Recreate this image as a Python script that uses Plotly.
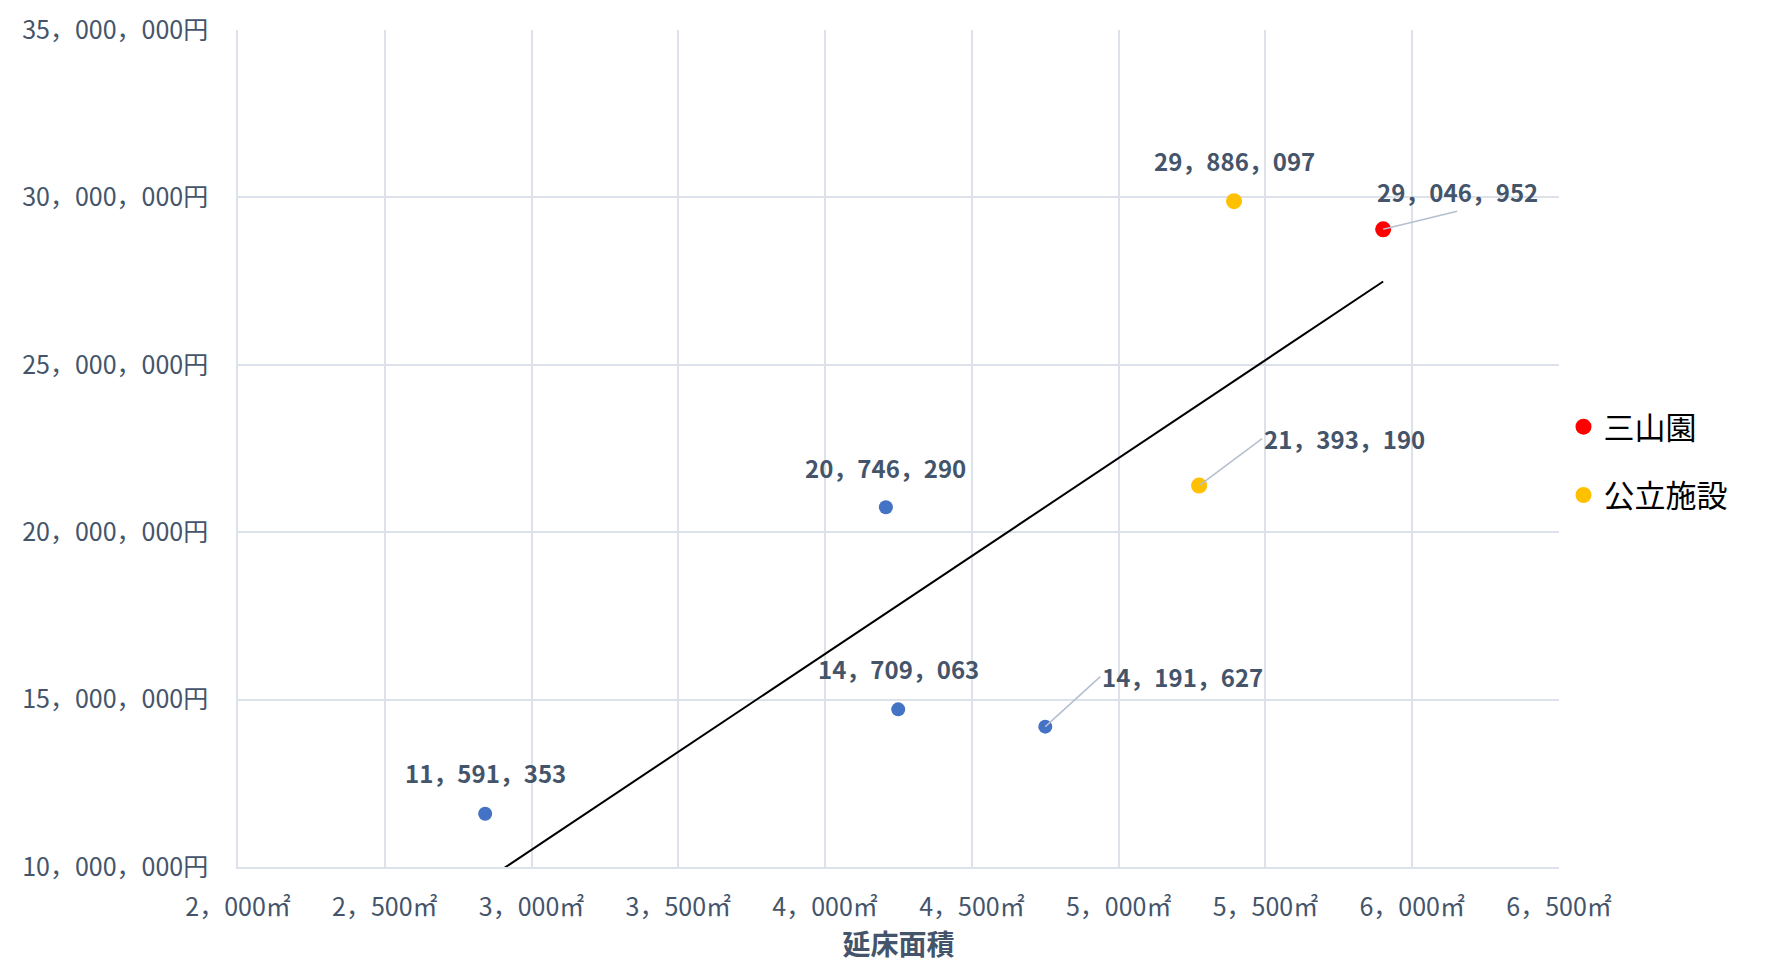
import numpy as np
import plotly.graph_objects as go

# ---- data ----
floor_area = [2842, 4249, 4207, 4750, 5274, 5393, 5901]           # 延床面積 (㎡)
cost = [11591353, 14709063, 20746290, 14191627, 21393190, 29886097, 29046952]  # 円
group = ["other", "other", "other", "other", "public", "public", "sanzan"]
series_names = {"sanzan": "三山園", "public": "公立施設"}
series_colors = {"sanzan": "#FF0000", "public": "#FFC000"}
base_color = "#4472C4"
x_ticks = [2000, 2500, 3000, 3500, 4000, 4500, 5000, 5500, 6000, 6500]
y_ticks = [10000000, 15000000, 20000000, 25000000, 30000000, 35000000]


def jp_num(v):
    return f"{v:,}".replace(",", "，")


x_ticktext = [jp_num(v) + "㎡" for v in x_ticks]
y_ticktext = [jp_num(v) + "円" for v in y_ticks]

# label placement (pixel offsets): (dx, dy, style)
label_offsets = [(0, -41, "above"), (0, -41, "above"), (0, -40, "above"), (55, -50, "left"),
                 (63, -47, "left"), (0, -41, "above"), (74, -18, "bottom")]

FONT = "Noto Sans CJK JP"
TXT = "#44546A"
GRID = "#DDE2EA"
LEADER = "#B4BFCF"

fig = go.Figure()

# all points (base series)
fig.add_trace(go.Scatter(x=floor_area, y=cost, mode="markers", showlegend=False,
                         marker=dict(color=base_color, size=14), hoverinfo="skip"))

# linear trendline over all points
slope, intercept = np.polyfit(floor_area, cost, 1)
tx = np.array([min(floor_area), max(floor_area)])
fig.add_trace(go.Scatter(x=tx, y=slope * tx + intercept, mode="lines", showlegend=False,
                         line=dict(color="black", width=2), hoverinfo="skip"))

# highlighted series
for key in ["sanzan", "public"]:
    xs = [x for x, g in zip(floor_area, group) if g == key]
    ys = [y for y, g in zip(cost, group) if g == key]
    fig.add_trace(go.Scatter(x=xs, y=ys, mode="markers", name=series_names[key],
                             legendgroup=key,
                             marker=dict(color=series_colors[key], size=16)))

# data labels
lab_font = dict(family=FONT, size=24, color=TXT, weight="bold")
for x, y, (dx, dy, style) in zip(floor_area, cost, label_offsets):
    txt = jp_num(y)
    if style == "above":
        fig.add_annotation(x=x, y=y, xref="x", yref="y", text=txt, showarrow=False,
                           yshift=-dy, font=lab_font)
    elif style == "left":
        fig.add_annotation(x=x, y=y, xref="x", yref="y", text=txt, showarrow=True,
                           ax=dx, ay=dy, xanchor="left", yanchor="middle",
                           arrowhead=0, arrowwidth=1.5, arrowcolor=LEADER, font=lab_font)
    else:
        fig.add_annotation(x=x, y=y, xref="x", yref="y", text=txt, showarrow=True,
                           ax=dx, ay=dy, xanchor="center", yanchor="bottom",
                           arrowhead=0, arrowwidth=1.5, arrowcolor=LEADER, font=lab_font)

fig.update_layout(
    width=1773, height=966,
    margin=dict(l=230, r=222, t=22, b=107, autoexpand=False),
    plot_bgcolor="white", paper_bgcolor="white",
    font=dict(family=FONT, color=TXT),
    legend=dict(x=1.0034, y=0.485, xanchor="left", yanchor="middle",
                font=dict(family=FONT, size=31, color="black"),
                tracegroupgap=25, itemsizing="trace", bgcolor="rgba(0,0,0,0)"),
    xaxis=dict(range=[2000, 6500], tickmode="array", tickvals=x_ticks, ticktext=x_ticktext,
               showgrid=True, gridcolor=GRID, gridwidth=1.5, zeroline=False,
               showline=True, linecolor=GRID, linewidth=1.5, automargin=False,
               tickfont=dict(family=FONT, size=25, color=TXT), ticks="",
               ticklabelstandoff=17,
               title=dict(text="<b>延床面積</b>", font=dict(family=FONT, size=28, color=TXT),
                          standoff=14)),
    yaxis=dict(range=[10000000, 35000000], tickmode="array", tickvals=y_ticks,
               ticktext=y_ticktext,
               showgrid=True, gridcolor=GRID, gridwidth=1.5, zeroline=False,
               showline=True, linecolor=GRID, linewidth=1.5, automargin=False,
               tickfont=dict(family=FONT, size=25, color=TXT), ticks="",
               ticklabelstandoff=23),
)

fig.write_html("out.html")
